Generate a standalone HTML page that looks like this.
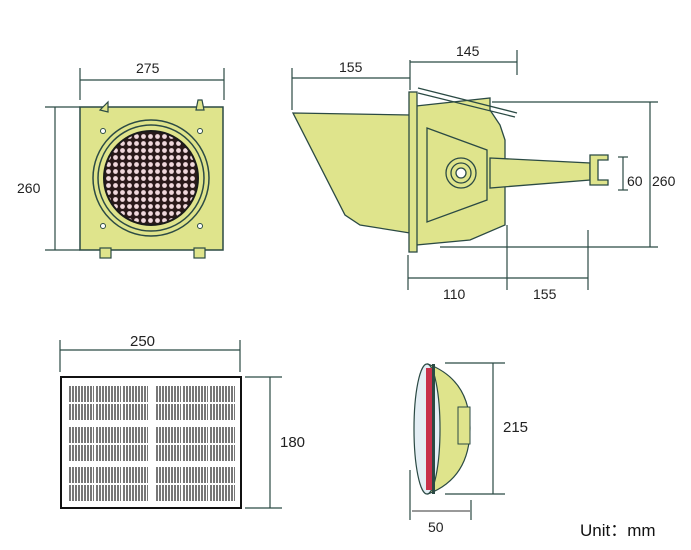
<!DOCTYPE html>
<html><head><meta charset="utf-8"><style>body{margin:0;background:#fff}svg{display:block}text{font-family:"Liberation Sans",sans-serif;fill:#222}</style></head><body>
<svg width="691" height="550" viewBox="0 0 691 550" xmlns="http://www.w3.org/2000/svg">
<defs>
<pattern id="led" x="0" y="0" width="7" height="7" patternUnits="userSpaceOnUse"><rect width="7" height="7" fill="#2a1a1a"/><circle cx="3.5" cy="3.5" r="2.4" fill="#f0d8dc"/></pattern>
<pattern id="cell" x="0" y="0" width="3" height="10" patternUnits="userSpaceOnUse"><rect width="3" height="10" fill="#fff"/><rect width="2" height="10" fill="#777"/></pattern>
</defs>
<g stroke="#2b4a44" stroke-width="1.2" fill="none">
<line x1="80" y1="80" x2="224" y2="80"/><line x1="80" y1="68" x2="80" y2="100"/><line x1="224" y1="68" x2="224" y2="100"/>
<line x1="55" y1="107" x2="55" y2="250"/><line x1="45" y1="107" x2="80" y2="107"/><line x1="45" y1="250" x2="80" y2="250"/>
</g>
<text x="136" y="73" font-size="14">275</text>
<text x="17" y="193" font-size="14">260</text>
<rect x="80" y="107" width="143" height="143" fill="#dfe48c" stroke="#2b4a44" stroke-width="1.5"/>
<circle cx="151" cy="178" r="58" fill="none" stroke="#2b4a44" stroke-width="1.5"/>
<circle cx="151" cy="178" r="53" fill="none" stroke="#2b4a44" stroke-width="1.5"/>
<circle cx="151" cy="178" r="47" fill="url(#led)" stroke="#1a1a1a" stroke-width="2"/>
<g fill="#fff" stroke="#2b4a44"><circle cx="103" cy="131" r="2.5"/><circle cx="200" cy="131" r="2.5"/><circle cx="103" cy="226" r="2.5"/><circle cx="200" cy="226" r="2.5"/></g>
<g fill="#dfe48c" stroke="#2b4a44" stroke-width="1.2"><path d="M100 110 l8 -8 l0 10 z"/><path d="M196 110 l8 0 l-2 -10 l-4 0 z"/><rect x="100" y="248" width="11" height="10"/><rect x="194" y="248" width="11" height="10"/></g>
<g stroke="#2b4a44" stroke-width="1.2" fill="none">
<line x1="292" y1="78" x2="410" y2="78"/><line x1="292" y1="68" x2="292" y2="110"/><line x1="410" y1="60" x2="410" y2="90"/>
<line x1="410" y1="62" x2="517" y2="62"/><line x1="517" y1="50" x2="517" y2="75"/>
<line x1="492" y1="102" x2="658" y2="102"/><line x1="440" y1="247" x2="658" y2="247"/><line x1="650" y1="102" x2="650" y2="247"/>
<line x1="623" y1="157" x2="623" y2="190"/><line x1="618" y1="157" x2="628" y2="157"/><line x1="618" y1="190" x2="628" y2="190"/>
<line x1="408" y1="278" x2="588" y2="278"/><line x1="408" y1="255" x2="408" y2="290"/><line x1="507" y1="225" x2="507" y2="290"/><line x1="588" y1="230" x2="588" y2="290"/>
</g>
<text x="339" y="72" font-size="14">155</text>
<text x="456" y="56" font-size="14">145</text>
<text x="627" y="186" font-size="14">60</text>
<text x="652" y="186" font-size="14">260</text>
<text x="443" y="299" font-size="14">110</text>
<text x="533" y="299" font-size="14">155</text>
<g fill="#dfe48c" stroke="#2b4a44" stroke-width="1.3">
<path d="M293 113 L410 115 L410 233 L360 225 L345 215 Z"/>
<path d="M416 106 L490 98 L490 110 L500 125 L505 140 L505 225 L470 240 L416 245 Z"/>
<path d="M490 158 L590 163 L590 180 L490 188 Z"/>
<path d="M590 155 h18 v5 h-10 v20 h10 v5 h-18 z"/>
<rect x="409" y="92" width="8" height="160"/>
<path d="M427 128 L487 150 L487 200 L427 222 Z" fill="none"/>
<circle cx="461" cy="173" r="15"/><circle cx="461" cy="173" r="10"/><circle cx="461" cy="173" r="5" fill="#fff"/>
</g>
<g stroke="#2b4a44" stroke-width="1.3"><line x1="418" y1="88" x2="517" y2="113"/><line x1="418" y1="93" x2="515" y2="117"/></g>
<g stroke="#2b4a44" stroke-width="1.2" fill="none">
<line x1="60" y1="350" x2="240" y2="350"/><line x1="60" y1="340" x2="60" y2="372"/><line x1="240" y1="340" x2="240" y2="372"/>
<line x1="270" y1="377" x2="270" y2="508"/><line x1="245" y1="377" x2="282" y2="377"/><line x1="245" y1="508" x2="282" y2="508"/>
</g>
<text x="130" y="346" font-size="15">250</text>
<text x="280" y="447" font-size="15">180</text>
<rect x="61" y="377" width="180" height="131" fill="#fff" stroke="#111" stroke-width="2"/>
<g fill="url(#cell)">
<rect x="68" y="386" width="80" height="34"/><rect x="155" y="386" width="80" height="34"/>
<rect x="68" y="427" width="80" height="34"/><rect x="155" y="427" width="80" height="34"/>
<rect x="68" y="467" width="80" height="34"/><rect x="155" y="467" width="80" height="34"/>
</g>
<g stroke="#fff" stroke-width="2"><line x1="62" y1="403" x2="240" y2="403"/><line x1="62" y1="444" x2="240" y2="444"/><line x1="62" y1="484" x2="240" y2="484"/><line x1="95" y1="380" x2="95" y2="505"/><line x1="122" y1="380" x2="122" y2="505"/><line x1="182" y1="380" x2="182" y2="505"/><line x1="209" y1="380" x2="209" y2="505"/></g>
<g stroke="#2b4a44" stroke-width="1.2" fill="none">
<line x1="445" y1="363" x2="505" y2="363"/><line x1="445" y1="494" x2="505" y2="494"/><line x1="493" y1="363" x2="493" y2="494"/>
<line x1="410" y1="470" x2="410" y2="520"/><line x1="471" y1="500" x2="471" y2="520"/>
</g>
<line x1="412" y1="511" x2="470" y2="511" stroke="#999" stroke-width="2"/>
<text x="503" y="432" font-size="15">215</text>
<text x="428" y="532" font-size="14">50</text>
<path d="M428 364 Q470 380 470 428 Q470 478 428 494 Z" fill="#dfe48c" stroke="#2b4a44" stroke-width="1.2"/>
<rect x="458" y="407" width="12" height="37" fill="#dfe48c" stroke="#2b4a44"/>
<ellipse cx="427" cy="429" rx="13" ry="65" fill="#e4eef5" stroke="#2b4a44" stroke-width="1.2"/>
<rect x="426" y="368" width="6" height="122" fill="#c8304a"/>
<rect x="432" y="364" width="3" height="130" fill="#2b4a44"/>
<text x="580" y="536" font-size="17" style="fill:#111">Unit：mm</text>
</svg>
</body></html>
